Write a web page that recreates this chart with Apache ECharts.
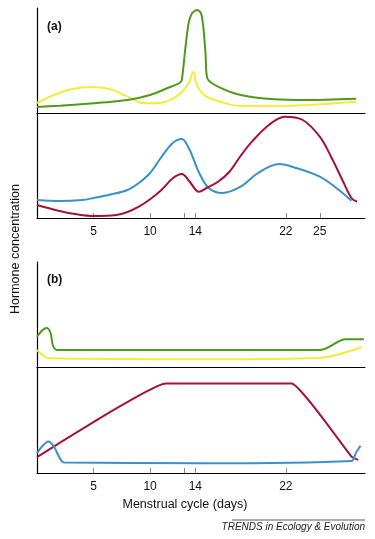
<!DOCTYPE html>
<html><head><meta charset="utf-8">
<script src="https://cdn.jsdelivr.net/npm/echarts@6/dist/echarts.min.js"></script>
<style>html,body{margin:0;padding:0;background:#fff}#c{width:375px;height:539px}</style>
</head><body><div id="c"></div>
<script>
// Panel (a) top: LH (green) and FSH (yellow)  [day, concentration]
const aGreen = [[0,6],[2,7.3],[5,9.7],[8,13],[10,18],[11.5,24.7],[12.6,30],[12.8,33],[13.1,63],[13.4,89.7],[13.7,99.7],[14.0,102.3],[14.2,103],[14.5,99.7],[14.7,86.3],[14.9,59.7],[15.06,34.7],[16,26.3],[18,18],[21,13.7],[24,13],[28.2,14.3]];
const aYellow = [[0,10],[1.5,18],[3,23.7],[4.8,26],[6.5,23.7],[8,16.3],[9.5,9.7],[11,10.3],[12.5,18],[13.4,29.7],[13.8,41],[14.2,26.3],[15,16.3],[16.5,10.3],[18,7],[22,7],[25,8.7],[28.2,11.3]];
// Panel (a) bottom: oestradiol (blue) and progesterone (red)
const aBlue = [[0,18],[2,17],[4,18],[5,20],[6.5,23.5],[8,28],[9,35],[10,45],[11,61],[12,75],[12.8,79],[13.5,68],[14.3,46],[15.2,29.7],[16.4,25],[18,31.3],[19.5,44.7],[21.4,54],[23,49.7],[25,41.3],[26.5,29.7],[27.8,17.3]];
const aRed = [[0,13],[2,7],[3.5,3.7],[5,2],[7,3],[8,6],[9,11.3],[10,18.7],[11,28],[12,39.7],[12.8,44],[13.5,36.3],[14.3,26.3],[15,30],[16,36.3],[17,46],[18,62],[19,76.3],[20.5,93],[21.9,101.3],[23.5,98],[25,81.3],[26,61.3],[27,38],[27.8,20],[28.3,16.3]];
// Panel (b) top
const bGreen = [[0,30.3],[0.5,37],[0.85,39],[1.2,34],[1.4,22],[1.75,17],[25,17],[27.3,27.7],[28.9,27.7]];
const bYellow = [[0,17],[0.6,11],[1.1,8.7],[15,7.7],[24.9,9],[28.7,19.7]];
// Panel (b) bottom
const bRed = [[0,15.7],[11.4,88.7],[22.5,88.7],[27.8,16.3],[28.4,13]];
const bBlue = [[0,19.7],[0.5,27],[1.0,31.3],[1.5,26],[2.0,15],[2.4,10.3],[15,9.7],[27.8,12],[28.2,20],[28.6,27]];
// Tick labels
const aTicks = [5,10,14,22,25];
const aTickMarks = [5,10,13,14,22,25];
const bTicks = [5,10,14,22];
const bTickMarks = [5,10,13,14,22];

const GREEN='#4f9a1c', YELLOW='#f2ec3c', BLUE='#3a91c9', RED='#a3113c';
const FONT='Liberation Sans, Arial, sans-serif';
const chart = echarts.init(document.getElementById('c'));
const grids = [
  {left:37,right:10,top:8,height:105},
  {left:37,right:10,top:113,height:105},
  {left:37,right:10,top:262,height:105},
  {left:37,right:10,top:367,height:106}
];
function xa(i, labels, marks){
  return {type:'value',gridIndex:i,min:0,max:29,
    axisLine:{show:true,onZero:false,lineStyle:{color:'#000',width:1.2}},
    splitLine:{show:false},
    axisTick:{show:!!marks,inside:true,length:5,lineStyle:{color:'#888'},customValues:marks||[]},
    axisLabel:{show:!!labels,customValues:labels||[],fontFamily:FONT,fontSize:12,color:'#111',margin:8}};
}
function ya(i){
  return {type:'value',gridIndex:i,min:0,max:105,
    axisLine:{show:true,lineStyle:{color:'#000',width:1.2}},
    axisTick:{show:false},axisLabel:{show:false},splitLine:{show:false}};
}
function s(i,data,color,smooth){
  return {type:'line',xAxisIndex:i,yAxisIndex:i,data:data,smooth:smooth,showSymbol:false,
    lineStyle:{color:color,width:2},z:color===YELLOW?2:3};
}
chart.setOption({
  animation:false,
  grid:grids,
  xAxis:[xa(0),xa(1,aTicks,aTickMarks),xa(2),xa(3,bTicks,bTickMarks)],
  yAxis:[ya(0),ya(1),ya(2),ya(3)],
  series:[
    s(0,aYellow,YELLOW,0.35), s(0,aGreen,GREEN,0.25),
    s(1,aBlue,BLUE,0.35), s(1,aRed,RED,0.35),
    s(2,bYellow,YELLOW,0.3), s(2,bGreen,GREEN,0.3),
    s(3,bRed,RED,0.1), s(3,bBlue,BLUE,0.35)
  ],
  graphic:[
    {type:'text',left:47,top:21,style:{text:'(a)',font:'bold 12px '+FONT,fill:'#111'}},
    {type:'text',left:47,top:274,style:{text:'(b)',font:'bold 12px '+FONT,fill:'#111'}},
    {type:'text',x:16,y:249,rotation:Math.PI/2,style:{text:'Hormone concentration',font:'12.5px '+FONT,fill:'#111',align:'center',verticalAlign:'middle'}},
    {type:'text',x:185,y:505,style:{text:'Menstrual cycle (days)',font:'12.5px '+FONT,fill:'#111',align:'center',verticalAlign:'middle'}},
    {type:'line',shape:{x1:232,y1:520,x2:365,y2:520},style:{stroke:'#333',lineWidth:0.8}},
    {type:'text',x:365,y:527,style:{text:'TRENDS in Ecology & Evolution',font:'italic 10px '+FONT,fill:'#222',align:'right',verticalAlign:'middle'}}
  ]
});
</script></body></html>
